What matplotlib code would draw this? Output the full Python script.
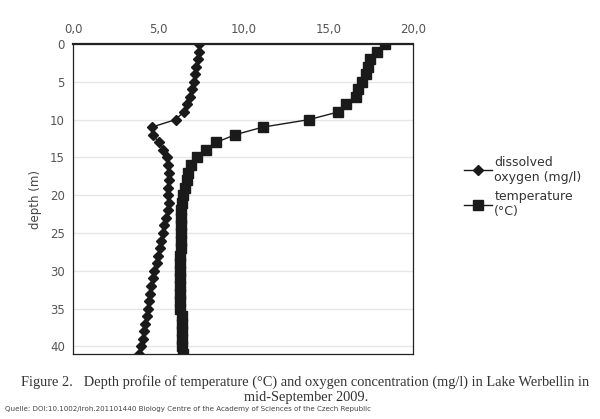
import matplotlib
matplotlib.use('Agg')
import matplotlib.pyplot as plt
import numpy as np

depth = list(range(0, 42))

oxygen = [7.39, 7.39, 7.31, 7.22, 7.14, 7.10, 7.00, 6.86, 6.70, 6.49,
          6.02, 4.61, 4.70, 5.02, 5.29, 5.53, 5.60, 5.63, 5.63, 5.59,
          5.59, 5.63, 5.55, 5.43, 5.35, 5.25, 5.18, 5.10, 4.96, 4.90,
          4.76, 4.70, 4.60, 4.53, 4.45, 4.39, 4.31, 4.24, 4.16, 4.08,
          3.98, 3.88]

temperature = [18.32, 17.88, 17.47, 17.35, 17.20, 16.97, 16.73, 16.61, 16.06, 15.56,
               13.86, 11.13, 9.52, 8.42, 7.80, 7.27, 6.93, 6.77, 6.67, 6.57,
               6.48, 6.42, 6.36, 6.36, 6.36, 6.36, 6.36, 6.36, 6.26, 6.26,
               6.26, 6.26, 6.26, 6.26, 6.26, 6.26, 6.40, 6.40, 6.40, 6.40,
               6.40, 6.48]

xticks = [0, 5, 10, 15, 20]
xticklabels = ['0,0', '5,0', '10,0', '15,0', '20,0']
yticks = [0, 5, 10, 15, 20, 25, 30, 35, 40]

fig = plt.figure(figsize=(6.0, 4.19), dpi=100)
ax = fig.add_axes([0.122, 0.155, 0.567, 0.74])

ax.plot(oxygen, depth, color='#1a1a1a', lw=1, marker='D', ms=5, label='dissolved\noxygen (mg/l)')
ax.plot(temperature, depth, color='#1a1a1a', lw=1, marker='s', ms=7, label='temperature\n(°C)')

ax.set_xlim(0, 20)
ax.set_ylim(41, 0)
ax.xaxis.tick_top()
ax.set_xticks(xticks)
ax.set_xticklabels(xticklabels)
ax.set_yticks(yticks)
ax.tick_params(length=0, labelsize=8.5, labelcolor='#555555', pad=6)
ax.grid(axis='y', color='#e6e6e6', lw=1)
ax.set_axisbelow(True)
for s in ax.spines.values():
    s.set_color('#222222')
    s.set_linewidth(0.9)
ax.spines['top'].set_linewidth(1.6)
ax.set_ylabel('depth (m)', fontsize=8.5, color='#444444', labelpad=6)

fig.legend(loc='upper left', bbox_to_anchor=(0.755, 0.655), frameon=False,
           fontsize=9, handlelength=2.2, labelspacing=0.5, handletextpad=0.2,
           labelcolor='#333333')

fig.text(0.508, 0.079, 'Figure 2.   Depth profile of temperature (°C) and oxygen concentration (mg/l) in Lake Werbellin in',
         ha='center', fontsize=10.4, family='Liberation Serif', color='#333333')
fig.text(0.51, 0.043, 'mid-September 2009.', ha='center', fontsize=10.4,
         family='Liberation Serif', color='#333333')
fig.text(0.008, 0.019, 'Quelle: DOI:10.1002/iroh.201101440 Biology Centre of the Academy of Sciences of the Czech Republic',
         ha='left', fontsize=5.1, color='#444444')

fig.savefig('out.png', dpi=100)
plt.close()
